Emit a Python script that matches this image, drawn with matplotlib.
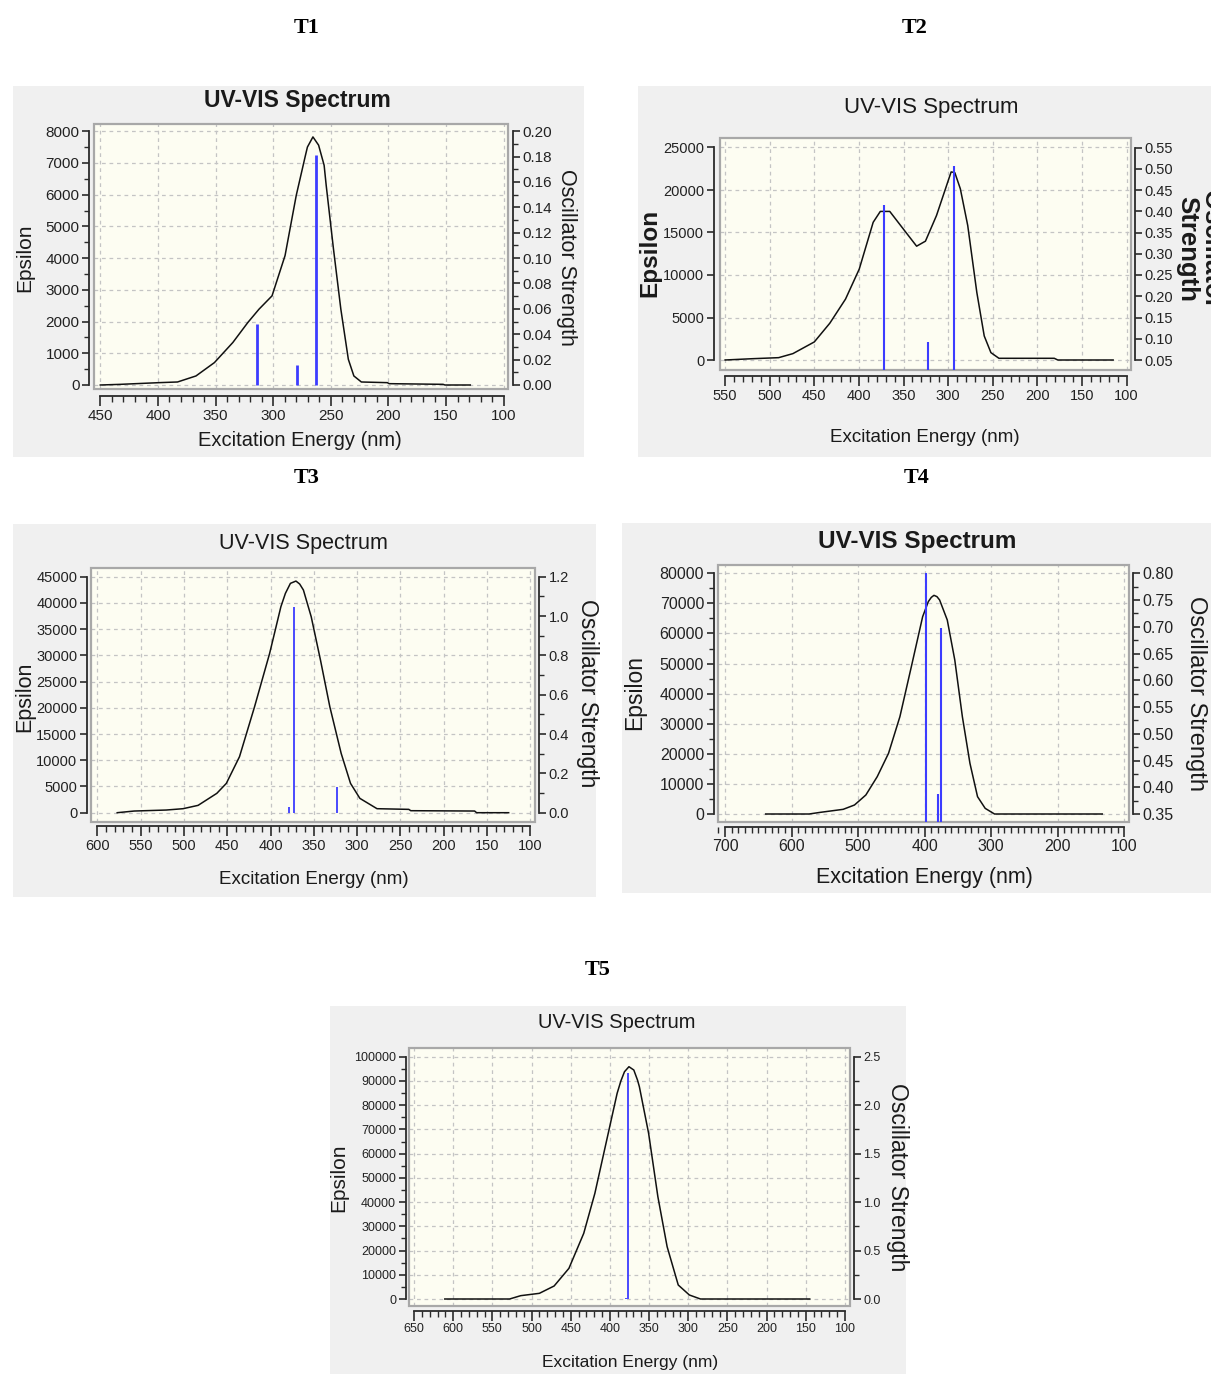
import numpy as np
import matplotlib
matplotlib.use("Agg")
from matplotlib import pyplot as plt
from matplotlib import font_manager
from matplotlib.patches import Rectangle
from matplotlib.ticker import MultipleLocator, FormatStrFormatter

# -----------------------------
# DATA
# -----------------------------
t1_nm = [450, 433, 399, 383, 367, 351, 335, 322, 312.3, 301, 289.7, 280, 272, 270.3,
         265.5, 260.6, 255.8, 254, 247.7, 241.3, 234.8, 230, 223.5, 201, 199.4, 152.6,
         151, 129]
t1_eps = [0, 20, 74, 95, 285, 706, 1340, 1970, 2390, 2810, 4080, 5975, 7240, 7500,
          7820, 7560, 6925, 6290, 4290, 2390, 810, 285, 95, 74, 42, 21, 0, 0]
t1_bar_nm = [314, 279.4, 263.2]
t1_bar_f = [0.048, 0.016, 0.181]

t2_nm = [550, 520, 490, 474, 450, 432.6, 415, 399.6, 384, 376, 365.4, 346, 335.3, 325.4,
         313, 296.6, 292.5, 286.3, 278, 267.8, 259.5, 252, 243, 181, 177, 115]
t2_eps = [0, 150, 275, 750, 2125, 4330, 7165, 10700, 16200, 17480, 17480, 14840, 13390,
          13980, 17000, 22125, 22050, 20150, 15830, 7950, 2830, 866, 200, 200, 0, 0]
t2_bar_nm = [371.6, 322.6, 293]
t2_bar_f = [0.415, 0.093, 0.506]

t3_nm = [577, 557.4, 520.5, 501, 483.6, 462, 451, 435.8, 418.4, 401, 388, 382.8, 377,
         370.6, 366.3, 362, 353, 342.3, 331.5, 318.4, 307.6, 296.8, 277, 240.3, 238,
         164.3, 162, 125]
t3_eps = [0, 318, 508, 763, 1400, 3690, 5590, 10680, 20210, 30380, 39280, 41820, 43730,
          44170, 43600, 42460, 37370, 29110, 20210, 11310, 5590, 2733, 763, 636, 381,
          318, 0, 0]
t3_bar_nm = [379, 373, 323.7]
t3_bar_f = [0.027, 1.044, 0.129]

t4_nm = [639, 573.7, 556.7, 522.5, 505.5, 488.4, 471.3, 454.3, 437.2, 420, 403, 394.5,
         390, 386, 381.5, 377.5, 366, 354.7, 343.3, 331.9, 320.5, 309, 295, 133]
t4_eps = [0, 0, 554, 1551, 2990, 6316, 12410, 20170, 32350, 48970, 65590, 70580,
          72000, 72680, 72240, 71130, 64480, 51190, 32350, 16840, 5762, 1880, 0, 0]
t4_bar_nm = [398.5, 380.3, 375.7]
t4_bar_f = [0.80, 0.387, 0.698]

t5_nm = [610.7, 528, 513.8, 490, 471.2, 452.3, 433.4, 419.2, 405, 390.8, 386, 381.4,
         375.7, 369.5, 364.8, 362.4, 350.6, 338.8, 327, 312.8, 298.6, 284.4, 145]
t5_eps = [0, 0, 1375, 2340, 5365, 12650, 27100, 43600, 64240, 84870, 90000, 93800,
          95870, 94500, 90370, 87620, 68360, 42230, 21600, 5777, 1650, 0, 0]
t5_bar_nm = [380, 376.4]
t5_bar_f = [0.014, 2.328]

# -----------------------------
# LAYOUT (pixels of the 1211x1374 picture)
# -----------------------------
W, H = 1211, 1374
DPI = 100

names = {f.name for f in font_manager.fontManager.ttflist}
narrow = "Liberation Sans Narrow" if "Liberation Sans Narrow" in names else "Liberation Sans"

# tfs/tw: title size & weight, lfs: x label, efs/ew: Epsilon label,
# ofs/ow: oscillator label, kfs: tick labels
panels = [
    dict(name="T1", lab=(307, 28), data=(t1_nm, t1_eps, t1_bar_nm, t1_bar_f),
         bg=(13, 86, 584, 457), frame=(93.6, 123.5, 508, 389),
         xref=((450, 100.3), (100, 503.7)), yref=((0, 385), (8000, 131.2)),
         y2ref=((0, 385), (0.20, 131.2)),
         spx=(100, 450), spy=(0, 8000), spy2=(0, 0.20),
         xmaj=50, ymaj=1000, ymin=500, y2maj=0.02, y2min=0.01, y2fmt="%.2f",
         off=(4.4, 4.6, 7), title=(297, 101), xlab=(300, 441), ylab=(25, 258),
         y2lab=(567, 257), y2text="Oscillator Strength", font="Liberation Sans",
         tfs=16.5, tw="bold", lfs=14.5, efs=15, ew="normal", ofs=15.5, ow="normal",
         kfs=11, barlw=2.0),
    dict(name="T2", lab=(915, 28), data=(t2_nm, t2_eps, t2_bar_nm, t2_bar_f),
         bg=(638, 86, 1211, 457), frame=(719.6, 137.5, 1131.3, 370.3),
         xref=((550, 725.1), (100, 1126.5)), yref=((0, 360), (25000, 147.5)),
         y2ref=((0.05, 360), (0.55, 147.5)),
         spx=(100, 550), spy=(0, 25000), spy2=(0.05, 0.55),
         xmaj=50, ymaj=5000, ymin=None, y2maj=0.05, y2min=None, y2fmt="%.2f",
         off=(5.6, 3.7, 5.7), title=(931, 108), xlab=(925, 438), ylab=(650, 253),
         y2lab=(1199, 249), y2text="Oscillator\nStrength", font=narrow,
         tfs=16, tw="normal", lfs=13.5, efs=17.5, ew="bold", ofs=18.5, ow="bold",
         kfs=10.5, barlw=1.5),
    dict(name="T3", lab=(307, 478), data=(t3_nm, t3_eps, t3_bar_nm, t3_bar_f),
         bg=(13, 524, 596, 897), frame=(90.9, 567.7, 534.8, 821.7),
         xref=((600, 97.3), (100, 530.3)), yref=((0, 812.7), (45000, 576.7)),
         y2ref=((0, 812.7), (1.2, 576.7)),
         spx=(100, 600), spy=(0, 45000), spy2=(0, 1.2),
         xmaj=50, ymaj=5000, ymin=None, y2maj=0.2, y2min=0.1, y2fmt="%.1f",
         off=(3.8, 3.8, 4.3), title=(303, 543), xlab=(314, 880), ylab=(25, 697),
         y2lab=(587, 693), y2text="Oscillator Strength", font=narrow,
         tfs=15.5, tw="normal", lfs=13.5, efs=15.5, ew="normal", ofs=16.5, ow="normal",
         kfs=10.5, barlw=1.3),
    dict(name="T4", lab=(917, 478), data=(t4_nm, t4_eps, t4_bar_nm, t4_bar_f),
         bg=(622, 523, 1211, 893), frame=(717.6, 565, 1128.7, 821.7),
         xref=((700, 725.1), (100, 1124.2)), yref=((0, 814), (80000, 573.3)),
         y2ref=((0.35, 814), (0.80, 573.3)),
         spx=(100, 700), spy=(0, 80000), spy2=(0.35, 0.80),
         xmaj=100, ymaj=10000, ymin=5000, y2maj=0.05, y2min=0.025, y2fmt="%.2f",
         off=(3.8, 3.8, 5), title=(917, 541.7), xlab=(924, 878), ylab=(635, 693),
         y2lab=(1196, 693), y2text="Oscillator Strength", font="Liberation Sans",
         tfs=17.5, tw="bold", lfs=15.5, efs=16.5, ew="normal", ofs=17, ow="normal",
         kfs=11.5, barlw=1.5),
    dict(name="T5", lab=(598, 970), data=(t5_nm, t5_eps, t5_bar_nm, t5_bar_f),
         bg=(330, 1006, 906, 1374), frame=(408.8, 1047.7, 849.9, 1306),
         xref=((650, 414), (100, 845)), yref=((0, 1299), (100000, 1056.7)),
         y2ref=((0, 1299), (2.5, 1056.7)),
         spx=(100, 650), spy=(0, 100000), spy2=(0, 2.5),
         xmaj=50, ymaj=10000, ymin=5000, y2maj=0.5, y2min=0.25, y2fmt="%.1f",
         off=(3, 3.7, 4.7), title=(617, 1023), xlab=(630, 1362), ylab=(339, 1178),
         y2lab=(897, 1177), y2text="Oscillator Strength", font=narrow,
         tfs=14.5, tw="normal", lfs=12.5, efs=15, ew="normal", ofs=16.5, ow="normal",
         kfs=9, barlw=1.3),
]

BG = "#f0f0f0"
FACE = "#fdfdf2"
INK = "#2a2a2a"
BLUE = "#3c3cff"
PT = 72.0 / DPI  # points per pixel


def lim(lo_px, hi_px, ref):
    (va, pa), (vb, pb) = ref
    k = (vb - va) / (pb - pa)
    return va + (lo_px - pa) * k, va + (hi_px - pa) * k


def fx(x):
    return x / W


def fy(y):
    return 1 - y / H


fig = plt.figure(figsize=(W / DPI, H / DPI), dpi=DPI)
fig.patch.set_facecolor("white")

for p in panels:
    nm, eps, bnm, bf = p["data"]
    x0, y0, x1, y1 = p["frame"]
    bx0, by0, bx1, by1 = p["bg"]
    font = p["font"]

    # grey panel background, behind the axes
    fig.patches.append(Rectangle((fx(bx0), fy(by1)), (bx1 - bx0) / W, (by1 - by0) / H,
                                 transform=fig.transFigure, facecolor=BG,
                                 edgecolor="none", zorder=-5))

    ax = fig.add_axes([fx(x0), fy(y1), (x1 - x0) / W, (y1 - y0) / H])
    ax.set_facecolor(FACE)
    ax.set_xlim(*lim(x0, x1, p["xref"]))
    ax.set_ylim(*lim(y1, y0, p["yref"]))

    ax.plot(nm, eps, color="#111111", lw=1.1, zorder=3, solid_joinstyle="round")

    ax.add_patch(Rectangle((0, 0), 1, 1, transform=ax.transAxes, fill=False,
                           edgecolor="#a8a8a8", lw=1.6, clip_on=False, zorder=5))

    for s in ("top", "right"):
        ax.spines[s].set_visible(False)
    ax.spines["left"].set_position(("outward", p["off"][0] * PT))
    ax.spines["bottom"].set_position(("outward", p["off"][2] * PT))
    ax.spines["left"].set_bounds(*p["spy"])
    ax.spines["bottom"].set_bounds(*p["spx"])
    for s in ("left", "bottom"):
        ax.spines[s].set_color(INK)
        ax.spines[s].set_linewidth(1.3)

    ax.xaxis.set_major_locator(MultipleLocator(p["xmaj"]))
    ax.xaxis.set_minor_locator(MultipleLocator(10))
    ax.yaxis.set_major_locator(MultipleLocator(p["ymaj"]))
    if p["ymin"]:
        ax.yaxis.set_minor_locator(MultipleLocator(p["ymin"]))
    ax.grid(True, which="major", color="#c4c4c4", lw=0.9, ls=(0, (3, 3)))
    ax.set_axisbelow(True)

    ax.tick_params(axis="x", which="major", length=10 * PT, width=1.2, color=INK,
                   labelsize=p["kfs"], labelcolor="#222222", pad=2)
    ax.tick_params(axis="x", which="minor", length=5.5 * PT, width=1.0, color=INK)
    ax.tick_params(axis="y", which="major", length=7 * PT, width=1.2, color=INK,
                   labelsize=p["kfs"], labelcolor="#222222", pad=2)
    ax.tick_params(axis="y", which="minor", length=5 * PT, width=1.0, color=INK)
    for lbl in ax.get_xticklabels() + ax.get_yticklabels():
        lbl.set_family(font)

    ax2 = ax.twinx()
    ax2.set_ylim(*lim(y1, y0, p["y2ref"]))
    ax2.vlines(bnm, 0, bf, color=BLUE, lw=p["barlw"], zorder=4)
    for s in ("top", "left", "bottom"):
        ax2.spines[s].set_visible(False)
    ax2.spines["right"].set_position(("outward", p["off"][1] * PT))
    ax2.spines["right"].set_bounds(*p["spy2"])
    ax2.spines["right"].set_color(INK)
    ax2.spines["right"].set_linewidth(1.3)
    ax2.yaxis.set_major_locator(MultipleLocator(p["y2maj"]))
    if p["y2min"]:
        ax2.yaxis.set_minor_locator(MultipleLocator(p["y2min"]))
    ax2.yaxis.set_major_formatter(FormatStrFormatter(p["y2fmt"]))
    ax2.tick_params(axis="y", which="major", length=7 * PT, width=1.2, color=INK,
                    labelsize=p["kfs"], labelcolor="#222222", pad=2)
    ax2.tick_params(axis="y", which="minor", length=5 * PT, width=1.0, color=INK)
    for lbl in ax2.get_yticklabels():
        lbl.set_family(font)

    # texts
    fig.text(fx(p["title"][0]), fy(p["title"][1]), "UV-VIS Spectrum", ha="center",
             va="center", fontsize=p["tfs"], fontweight=p["tw"], family=font,
             color="#1a1a1a")
    fig.text(fx(p["xlab"][0]), fy(p["xlab"][1]), "Excitation Energy (nm)", ha="center",
             va="center", fontsize=p["lfs"], family=font, color="#1a1a1a")
    fig.text(fx(p["ylab"][0]), fy(p["ylab"][1]), "Epsilon", ha="center", va="center",
             rotation=90, fontsize=p["efs"], fontweight=p["ew"],
             family="Liberation Sans", color="#1a1a1a")
    fig.text(fx(p["y2lab"][0]), fy(p["y2lab"][1]), p["y2text"], ha="center", va="center",
             rotation=-90, fontsize=p["ofs"], fontweight=p["ow"],
             family="Liberation Sans", color="#1a1a1a", linespacing=0.95)

    fig.text(fx(p["lab"][0]), fy(p["lab"][1]), p["name"], ha="center", va="center",
             fontsize=16, fontweight="bold", family="Liberation Serif", color="black")

fig.savefig("out.png", dpi=DPI, facecolor="white")
